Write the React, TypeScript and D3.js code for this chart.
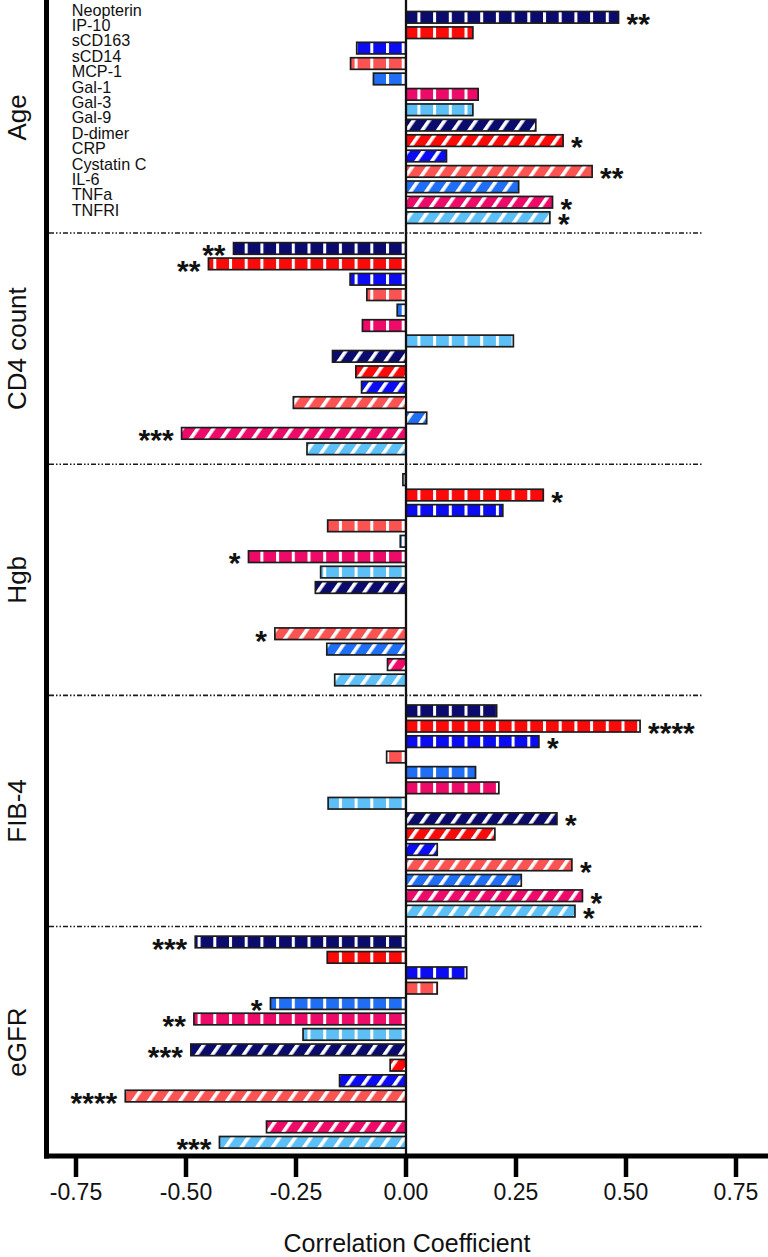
import React from "react";
import * as d3 from "d3";

const markers = ["Neopterin", "IP-10", "sCD163", "sCD14", "MCP-1", "Gal-1", "Gal-3", "Gal-9", "D-dimer", "CRP", "Cystatin C", "IL-6", "TNFa", "TNFRI"];
const groups = ["Age", "CD4 count", "Hgb", "FIB-4", "eGFR"];

const ageValues = [0.483, 0.152, -0.112, -0.126, -0.074, 0.164, 0.152, 0.295, 0.357, 0.092, 0.423, 0.256, 0.333, 0.327];
const ageStars = ["**", "", "", "", "", "", "", "", "*", "", "**", "", "*", "*"];

const cd4Values = [-0.392, -0.449, -0.127, -0.089, -0.02, -0.099, 0.244, -0.167, -0.114, -0.101, -0.256, 0.047, -0.51, -0.225];
const cd4Stars = ["**", "**", "", "", "", "", "", "", "", "", "", "", "***", ""];

const hgbValues = [-0.007, 0.312, 0.22, -0.178, -0.013, -0.358, -0.194, -0.206, null, null, -0.298, -0.18, -0.042, -0.162];
const hgbStars = ["", "*", "", "", "", "*", "", "", "", "", "*", "", "", ""];

const fib4Values = [0.206, 0.532, 0.302, -0.044, 0.158, 0.211, -0.177, 0.343, 0.202, 0.071, 0.377, 0.262, 0.401, 0.384];
const fib4Stars = ["", "****", "*", "", "", "", "", "*", "", "", "*", "", "*", "*"];

const egfrValues = [-0.479, -0.179, 0.138, 0.071, -0.308, -0.482, -0.234, -0.489, -0.036, -0.151, -0.638, null, -0.317, -0.424];
const egfrStars = ["***", "", "", "", "*", "**", "", "***", "", "", "****", "", "", "***"];

const xTicks = [-0.75, -0.5, -0.25, 0, 0.25, 0.5, 0.75];

const palette = ["#0b0b6e", "#fb0a0a", "#0c0cf2", "#fb5252", "#1f6ef3", "#ee0a68", "#5cbff5"];

const groupValues = [ageValues, cd4Values, hgbValues, fib4Values, egfrValues];
const groupStars = [ageStars, cd4Stars, hgbStars, fib4Stars, egfrStars];

const FONT = "'Liberation Sans', Arial, Helvetica, sans-serif";

export default function App() {
  const W = 768;
  const H = 1257;
  const nPer = markers.length + 1;
  const lastSlot = (groups.length - 1) * nPer + markers.length - 1;
  const x = d3.scaleLinear().domain([-0.75, 0.75]).range([76, 736]);
  const y = d3.scaleLinear().domain([0, lastSlot]).range([17.3, 1142.3]);
  const barH = 11.6;
  const axisY = 1156;
  const yAxisX = 46.5;
  const x0 = x(0);
  const fmt = (t: number) => d3.format(".2f")(t).replace("\u2212", "-");

  const bars: any[] = [];
  groups.forEach((g, gi) => {
    markers.forEach((m, mi) => {
      const v = groupValues[gi][mi];
      const s = groupStars[gi][mi];
      if (v === null || v === undefined) return;
      const slot = gi * nPer + mi;
      bars.push({ gi, mi, v, s, cy: y(slot) });
    });
  });

  const starFs = 30;

  return (
    <svg width={W} height={H} style={{ position: "absolute", left: 0, top: 0, display: "block", background: "#fff" }} fontFamily={FONT}>
      <defs>
        {palette.map((c, i) => (
          <pattern key={"v" + i} id={"pv" + i} patternUnits="userSpaceOnUse" x={x0 - 4.3} y={0} width={15.7} height={20}>
            <rect x={0} y={0} width={15.7} height={20} fill={c} />
            <rect x={0} y={0} width={3} height={20} fill="#fff" />
          </pattern>
        ))}
        {palette.map((c, i) => (
          <pattern key={"d" + i} id={"pd" + i} patternUnits="userSpaceOnUse" x={x0} y={0} width={12.8} height={20} patternTransform="rotate(35)">
            <rect x={0} y={0} width={12.8} height={20} fill={c} />
            <rect x={0} y={0} width={3.6} height={20} fill="#fff" />
          </pattern>
        ))}
      </defs>

      {groups.slice(0, -1).map((g, gi) => {
        const sy = y(gi * nPer + markers.length);
        return (
          <line key={"sep" + gi} x1={49} x2={703} y1={sy} y2={sy} stroke="#1a1a1a" strokeWidth={1.6} strokeDasharray="5,2,1.5,2,1.5,2" />
        );
      })}

      {bars.map((b, i) => {
        const xs = Math.min(x(b.v), x0);
        const w = Math.abs(x(b.v) - x0);
        const ci = b.mi % 7;
        const fill = b.mi < 7 ? `url(#pv${ci})` : `url(#pd${ci})`;
        return (
          <rect key={"b" + i} x={xs} y={b.cy - barH / 2} width={w} height={barH} fill={fill} stroke="#1c1c1c" strokeWidth={1.7} />
        );
      })}

      {bars.filter((b) => b.s).map((b, i) => (
        <text
          key={"s" + i}
          x={b.v >= 0 ? x(b.v) + 8 : x(b.v) - 8}
          y={b.cy + starFs * 0.56}
          fontSize={starFs}
          fontWeight="bold"
          textAnchor={b.v >= 0 ? "start" : "end"}
          fill="#111"
        >
          {b.s}
        </text>
      ))}

      <line x1={x0} x2={x0} y1={0} y2={axisY} stroke="#111" strokeWidth={2.3} />

      {markers.map((m, mi) => (
        <text key={"m" + mi} x={71.7} y={y(mi) - 1.8} fontSize={16.2} fill="#111">
          {m}
        </text>
      ))}

      {groups.map((g, gi) => {
        const cy = (y(gi * nPer) + y(gi * nPer + markers.length - 1)) / 2;
        return (
          <text key={"g" + gi} transform={`translate(26,${cy}) rotate(-90)`} textAnchor="middle" fontSize={26} fill="#111">
            {g}
          </text>
        );
      })}

      <line x1={yAxisX} x2={yAxisX} y1={0} y2={axisY + 2.5} stroke="#000" strokeWidth={5} />
      <line x1={yAxisX - 2.5} x2={W} y1={axisY} y2={axisY} stroke="#000" strokeWidth={5} />
      {xTicks.map((t) => (
        <g key={"t" + t}>
          <line x1={x(t)} x2={x(t)} y1={axisY} y2={1177} stroke="#000" strokeWidth={4.5} />
          <text x={x(t)} y={1200} textAnchor="middle" fontSize={23} fill="#111">
            {fmt(t)}
          </text>
        </g>
      ))}
      <text x={407} y={1252} textAnchor="middle" fontSize={25} fill="#111">
        Correlation Coefficient
      </text>
    </svg>
  );
}
